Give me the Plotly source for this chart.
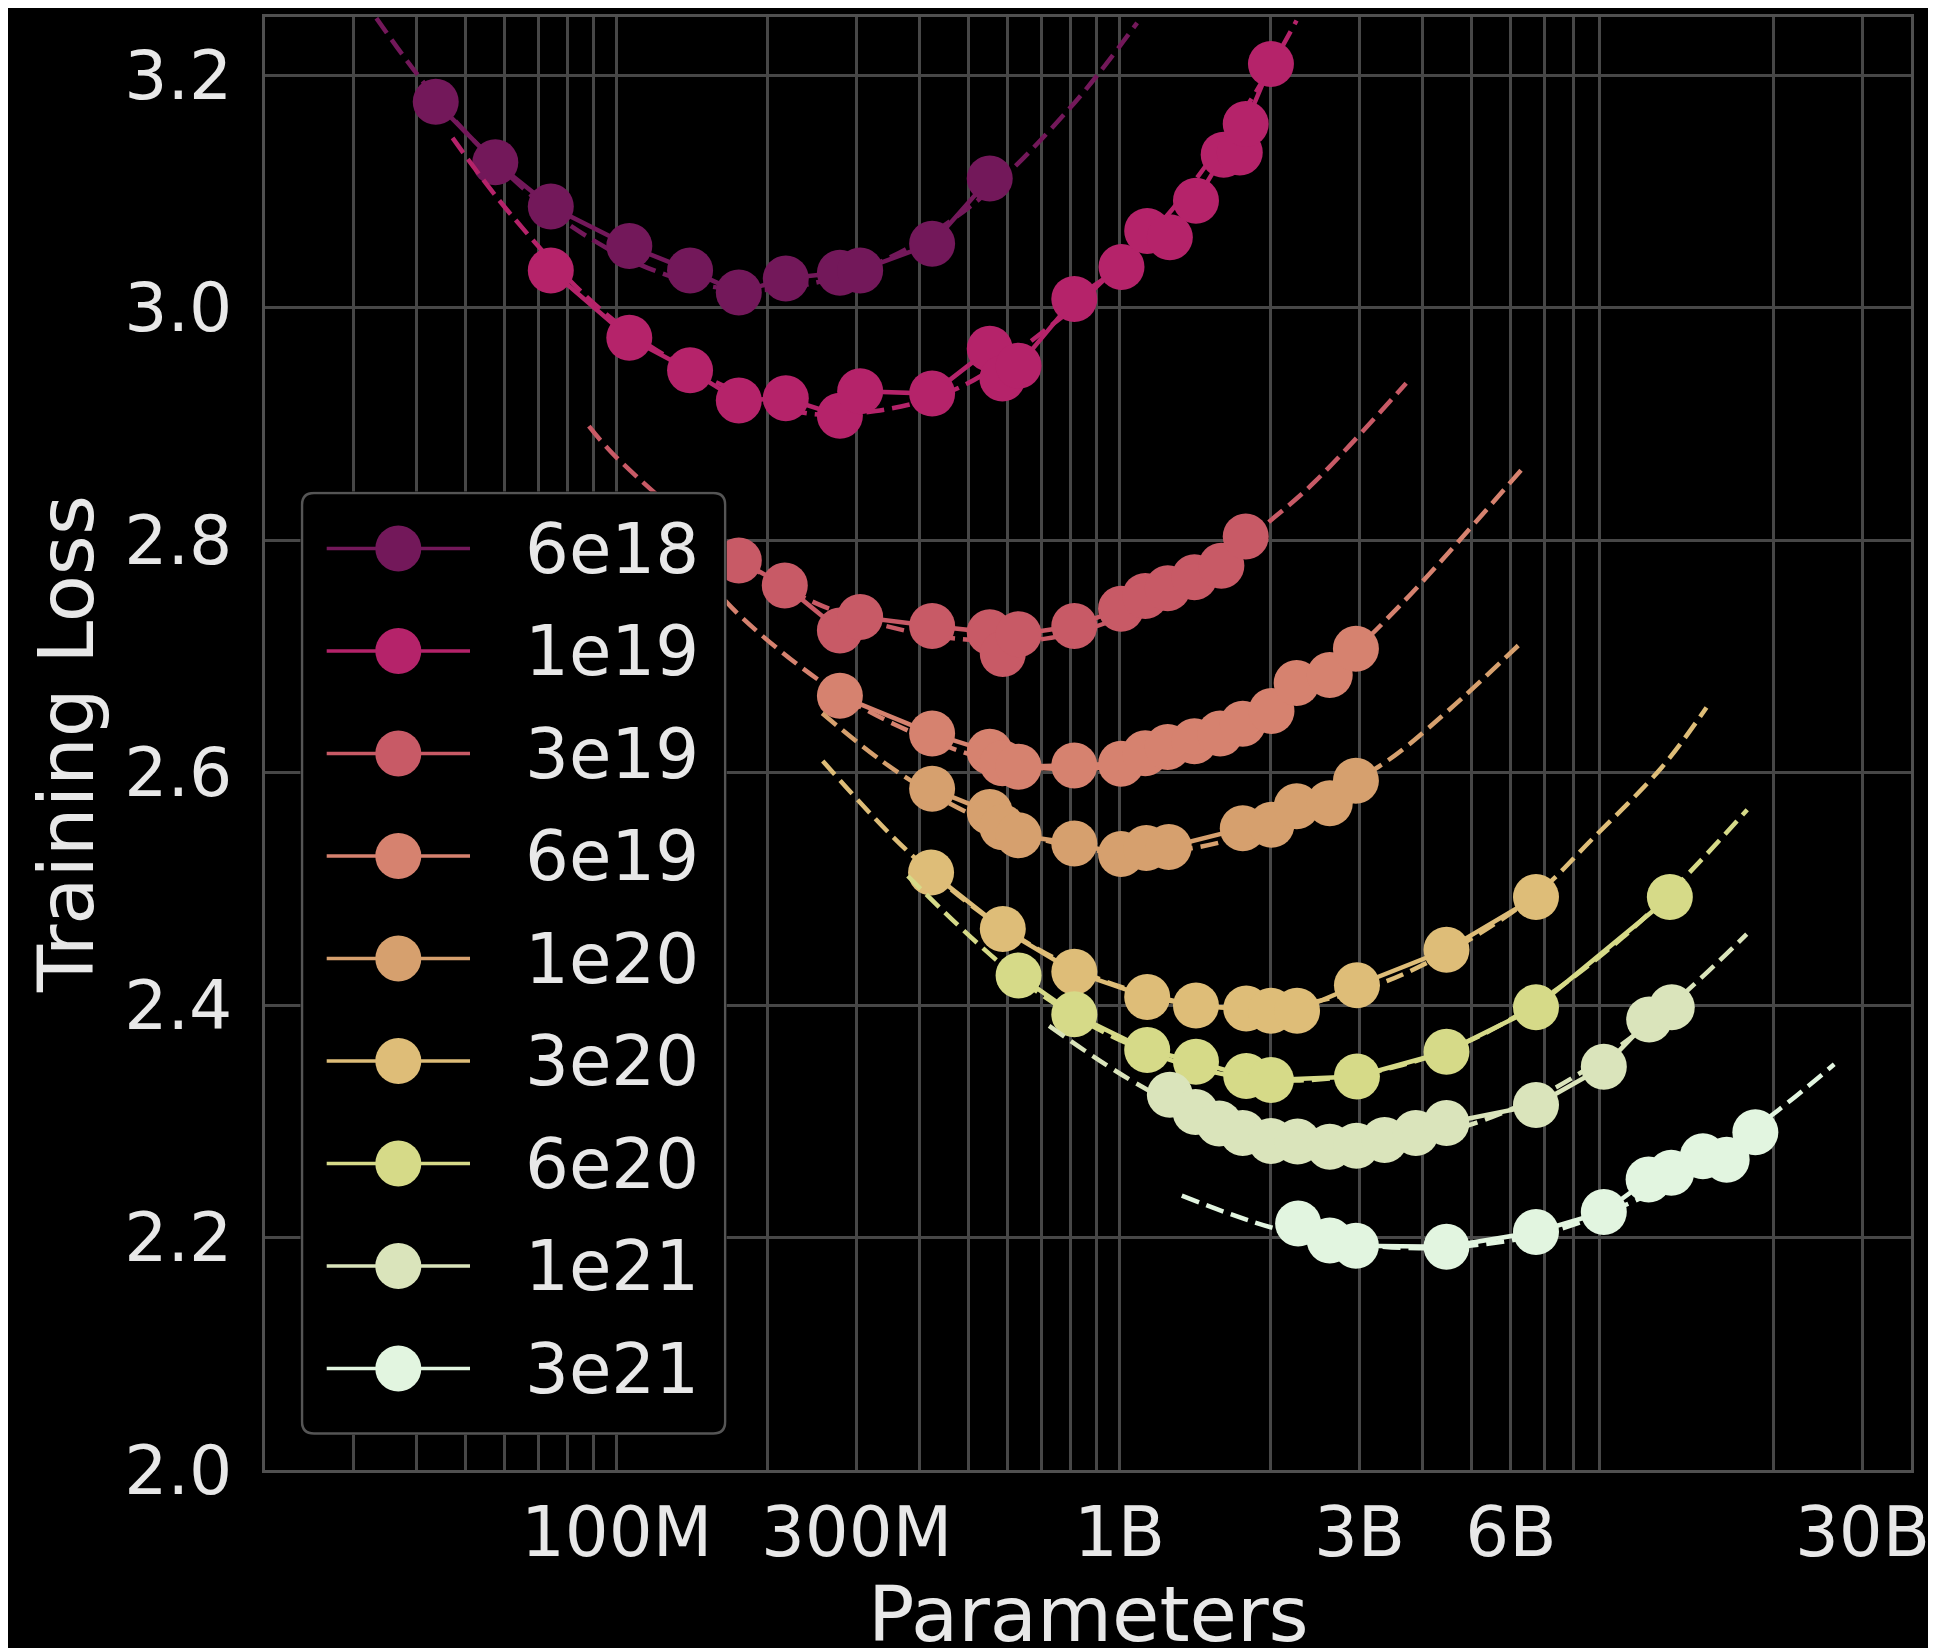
import math
import plotly.graph_objects as go

# ---------------- data ----------------
budgets = ["6e18", "1e19", "3e19", "6e19", "1e20", "3e20", "6e20", "1e21", "3e21"]
colors = ["#73185a", "#b5236a", "#c85a66", "#d6826f", "#d6a06e",
          "#debd78", "#d6da88", "#dae4bb", "#e2f5e0"]

# measured runs: parameters and training loss
params_6e18 = [43.7e6, 57.4e6, 74.0e6, 106e6, 140e6, 175e6, 217e6, 278e6, 305e6, 424e6, 552e6]
loss_6e18 = [3.177, 3.125, 3.087, 3.053, 3.032, 3.013, 3.025, 3.030, 3.032, 3.055, 3.111]

params_1e19 = [74.0e6, 106e6, 140e6, 175e6, 217e6, 278e6, 305e6, 424e6, 552e6, 585e6,
               630e6, 813e6, 1.009e9, 1.135e9, 1.259e9, 1.419e9, 1.611e9, 1.734e9, 1.782e9, 2.0e9]
loss_1e19 = [3.032, 2.974, 2.946, 2.920, 2.922, 2.907, 2.928, 2.926, 2.9645, 2.939,
             2.950, 3.0075, 3.035, 3.066, 3.0605, 3.092, 3.1316, 3.1335, 3.158, 3.2095]

params_3e19 = [175e6, 216e6, 278e6, 305e6, 424e6, 552e6, 586e6, 630e6, 813e6, 1.007e9,
               1.125e9, 1.247e9, 1.409e9, 1.594e9, 1.782e9]
loss_3e19 = [2.7825, 2.761, 2.7223, 2.7338, 2.726, 2.7208, 2.702, 2.719, 2.726, 2.741,
             2.752, 2.7586, 2.768, 2.778, 2.803]

params_6e19 = [278e6, 424e6, 552e6, 585e6, 630e6, 813e6, 1.007e9, 1.125e9, 1.247e9, 1.409e9,
               1.585e9, 1.758e9, 2.005e9, 2.25e9, 2.618e9, 2.951e9]
loss_6e19 = [2.666, 2.6335, 2.618, 2.608, 2.605, 2.606, 2.6075, 2.6166, 2.622, 2.627,
             2.6335, 2.642, 2.653, 2.677, 2.684, 2.7066]

params_1e20 = [424e6, 552e6, 585e6, 630e6, 813e6, 1.007e9, 1.130e9, 1.253e9, 1.758e9,
               2.005e9, 2.25e9, 2.618e9, 2.951e9]
loss_1e20 = [2.586, 2.566, 2.553, 2.546, 2.539, 2.530, 2.535, 2.536, 2.552,
             2.555, 2.571, 2.5737, 2.593]

params_3e20 = [422e6, 586e6, 813e6, 1.135e9, 1.419e9, 1.786e9, 2.0e9, 2.254e9, 2.965e9,
               4.467e9, 6.73e9]
loss_3e20 = [2.514, 2.4655, 2.4286, 2.407, 2.3995, 2.397, 2.395, 2.395, 2.417,
             2.4475, 2.493]

params_6e20 = [630e6, 813e6, 1.135e9, 1.419e9, 1.786e9, 2.0e9, 2.965e9, 4.467e9,
               6.73e9, 12.42e9]
loss_6e20 = [2.4255, 2.392, 2.3613, 2.3513, 2.339, 2.3355, 2.3385, 2.3598,
             2.398, 2.493]

params_1e21 = [1.259e9, 1.416e9, 1.578e9, 1.758e9, 2.0e9, 2.259e9, 2.618e9, 2.958e9,
               3.365e9, 3.882e9, 4.467e9, 6.73e9, 9.18e9, 11.3e9, 12.53e9]
loss_1e21 = [2.3228, 2.308, 2.298, 2.290, 2.283, 2.2825, 2.278, 2.279,
             2.284, 2.290, 2.2985, 2.314, 2.347, 2.3875, 2.398]

params_3e21 = [2.265e9, 2.618e9, 2.951e9, 4.467e9, 6.73e9, 9.18e9, 11.27e9, 12.5e9,
               14.45e9, 16.11e9, 18.37e9]
loss_3e21 = [2.212, 2.1975, 2.193, 2.192, 2.2048, 2.222, 2.250, 2.2558,
             2.270, 2.267, 2.2905]

# dashed fitted curves
fit_params_6e18 = [33.3e6, 40.1e6, 50.1e6, 79.4e6, 125.9e6, 190.5e6, 316.2e6, 501.2e6, 794.3e6, 1.084e9]
fit_loss_6e18 = [3.249, 3.201, 3.151, 3.073, 3.028, 3.015, 3.035, 3.086, 3.171, 3.245]

fit_params_1e19 = [47.2e6, 61.4e6, 93.8e6, 141.3e6, 232.3e6, 327.3e6, 484.2e6, 753.4e6,
                   916.2e6, 1.259e9, 1.820e9, 2.249e9]
fit_loss_1e19 = [3.146, 3.081, 2.997, 2.946, 2.910, 2.911, 2.932, 2.989,
                 3.021, 3.082, 3.178, 3.247]

fit_params_3e19 = [88.1e6, 100e6, 158.5e6, 248.3e6, 358.9e6, 477.5e6, 707.9e6, 1.0e9,
                   1.413e9, 2.037e9, 2.443e9, 3.715e9]
fit_loss_3e19 = [2.898, 2.871, 2.797, 2.746, 2.724, 2.715, 2.715, 2.733,
                 2.765, 2.820, 2.850, 2.935]

fit_params_6e19 = [141.3e6, 170.2e6, 253.5e6, 354.8e6, 562.3e6, 794.3e6, 1.122e9, 1.585e9,
                   2.818e9, 3.597e9, 6.368e9]
fit_loss_6e19 = [2.783, 2.741, 2.679, 2.642, 2.610, 2.603, 2.610, 2.632,
                 2.700, 2.743, 2.863]

fit_params_1e20 = [256.4e6, 366.4e6, 562.3e6, 1.0e9, 1.778e9, 3.273e9, 4.467e9, 6.368e9]
fit_loss_1e20 = [2.651, 2.599, 2.556, 2.531, 2.546, 2.605, 2.652, 2.714]

fit_params_3e20 = [257.0e6, 382.0e6, 588.8e6, 1.0e9, 1.778e9, 2.951e9, 4.467e9, 6.761e9,
                   8.670e9, 12.0e9, 14.69e9]
fit_loss_3e20 = [2.610, 2.531, 2.466, 2.416, 2.397, 2.4115, 2.445, 2.496,
                 2.542, 2.605, 2.656]

fit_params_6e20 = [379.3e6, 631e6, 1.0e9, 1.585e9, 2.239e9, 3.548e9, 5.623e9, 10.0e9, 17.7e9]
fit_loss_6e20 = [2.511, 2.423, 2.370, 2.341, 2.335, 2.347, 2.381, 2.458, 2.568]

fit_params_1e21 = [724.4e6, 1.138e9, 1.778e9, 2.818e9, 4.467e9, 7.079e9, 11.22e9, 17.66e9]
fit_loss_1e21 = [2.382, 2.327, 2.291, 2.279, 2.291, 2.325, 2.383, 2.461]

fit_params_3e21 = [1.330e9, 2.032e9, 3.162e9, 4.467e9, 6.761e9, 10.0e9, 14.13e9, 20.46e9, 26.36e9]
fit_loss_3e21 = [2.236, 2.208, 2.193, 2.1915, 2.202, 2.227, 2.2596, 2.310, 2.349]

# axis ticks
x_tick_vals = [1e8, 3e8, 1e9, 3e9, 6e9, 3e10]
x_tick_text = ["100M", "300M", "1B", "3B", "6B", "30B"]
y_tick_vals = [2.0, 2.2, 2.4, 2.6, 2.8, 3.0, 3.2]
y_tick_text = ["2.0", "2.2", "2.4", "2.6", "2.8", "3.0", "3.2"]
x_title = "Parameters"
y_title = "Training Loss"

runs_params = [params_6e18, params_1e19, params_3e19, params_6e19, params_1e20,
               params_3e20, params_6e20, params_1e21, params_3e21]
runs_loss = [loss_6e18, loss_1e19, loss_3e19, loss_6e19, loss_1e20,
             loss_3e20, loss_6e20, loss_1e21, loss_3e21]
fits_params = [fit_params_6e18, fit_params_1e19, fit_params_3e19, fit_params_6e19, fit_params_1e20,
               fit_params_3e20, fit_params_6e20, fit_params_1e21, fit_params_3e21]
fits_loss = [fit_loss_6e18, fit_loss_1e19, fit_loss_3e19, fit_loss_6e19, fit_loss_1e20,
             fit_loss_3e20, fit_loss_6e20, fit_loss_1e21, fit_loss_3e21]

# ---------------- styling ----------------
FONT = "DejaVu Sans"
TXT = "#e8e8e8"
GRID = "#474747"
FRAME = "#505050"
MSIZE = 46
LW = 4.5

fig = go.Figure()

for name, col, px, ly, fx, fy in zip(budgets, colors, runs_params, runs_loss, fits_params, fits_loss):
    fig.add_trace(go.Scatter(x=fx, y=fy, mode="lines", line=dict(color=col, width=LW, dash="18px,8px", shape="spline"),
                             hoverinfo="skip", showlegend=False, cliponaxis=True))
    fig.add_trace(go.Scatter(x=px, y=ly, mode="lines+markers", name=name,
                             line=dict(color=col, width=LW),
                             marker=dict(color=col, size=MSIZE, line=dict(width=0)),
                             showlegend=False))

# grid positions for the log x axis: labelled ticks plus 2..9 x 10^n
grid_vals = sorted(set(x_tick_vals + [m * 10 ** e for e in range(7, 11) for m in range(2, 10)] + [1e8, 1e9]))
grid_vals = [v for v in grid_vals if 2.05e7 < v < 3.7e10]
label_map = dict(zip(x_tick_vals, x_tick_text))
grid_text = [label_map.get(v, "") for v in grid_vals]

# ---------------- figure geometry (page body adds an 8px offset) ----------------
FIG_W, FIG_H = 1928, 1640
ML, MR, MT, MB = 257, 25, 9, 178
PW = FIG_W - ML - MR
PH = FIG_H - MT - MB

# legend box in figure pixel coordinates
BX0, BX1, BY0, BY1 = 292.5, 718.7, 483.5, 1427.0
LEG_W, LEG_H = BX1 - BX0, BY1 - BY0

for i, (name, col) in enumerate(zip(budgets, colors)):
    yc = LEG_H - 57.1 - 102.5 * i
    fig.add_trace(go.Scatter(x=[26.2, 169.5], y=[yc, yc], mode="lines", line=dict(color=col, width=3.5),
                             xaxis="x2", yaxis="y2", hoverinfo="skip", showlegend=False))
    fig.add_trace(go.Scatter(x=[97.8], y=[yc], mode="markers", marker=dict(color=col, size=MSIZE, line=dict(width=0)),
                             xaxis="x2", yaxis="y2", hoverinfo="skip", showlegend=False))
    fig.add_annotation(x=222, y=yc, xref="x2", yref="y2", text=name, showarrow=False,
                       xanchor="left", yanchor="middle", font=dict(family=FONT, size=69, color=TXT))

r, e = 12, 1.5
w, h = LEG_W - e, LEG_H - e
path = (f"M{e + r},{e} L{w - r},{e} Q{w},{e} {w},{e + r} L{w},{h - r} Q{w},{h} {w - r},{h} "
        f"L{e + r},{h} Q{e},{h} {e},{h - r} L{e},{e + r} Q{e},{e} {e + r},{e} Z")
fig.add_shape(type="path", path=path, xref="x2", yref="y2", layer="below",
              fillcolor="black", line=dict(color="#555555", width=2.5))

# x axis title as a paper-anchored annotation (axis titles are clamped inside the margin)
fig.add_annotation(x=0.5, y=-144 / PH, xref="paper", yref="paper", text=x_title, showarrow=False,
                   xanchor="center", yanchor="middle", font=dict(family=FONT, size=77, color=TXT))

fig.update_layout(
    width=FIG_W, height=FIG_H,
    margin=dict(l=ML, r=MR, t=MT, b=MB),
    paper_bgcolor="black", plot_bgcolor="black",
    showlegend=False,
    font=dict(family=FONT, color=TXT),
    xaxis=dict(type="log", range=[math.log10(2e7), 10.5736],
               tickmode="array", tickvals=grid_vals, ticktext=grid_text,
               tickfont=dict(family=FONT, size=69, color=TXT), ticks="", ticklabelstandoff=0,
               showgrid=True, gridcolor=GRID, gridwidth=3, zeroline=False,
               showline=True, mirror=True, linecolor=FRAME, linewidth=3,
               automargin=False),
    yaxis=dict(range=[2.0, 3.25], tickmode="array", tickvals=y_tick_vals, ticktext=y_tick_text,
               tickfont=dict(family=FONT, size=68, color=TXT), ticks="", ticklabelstandoff=16,
               showgrid=True, gridcolor=GRID, gridwidth=3, zeroline=False,
               showline=True, mirror=True, linecolor=FRAME, linewidth=3,
               title=dict(text=y_title, font=dict(family=FONT, size=77, color=TXT), standoff=6),
               automargin=False),
    xaxis2=dict(domain=[(BX0 - ML) / PW, (BX1 - ML) / PW], range=[0, LEG_W], anchor="y2",
                visible=False, fixedrange=True),
    yaxis2=dict(domain=[(FIG_H - MB - BY1) / PH, (FIG_H - MB - BY0) / PH], range=[0, LEG_H], anchor="x2",
                visible=False, fixedrange=True),
)

fig.write_html("out.html")
